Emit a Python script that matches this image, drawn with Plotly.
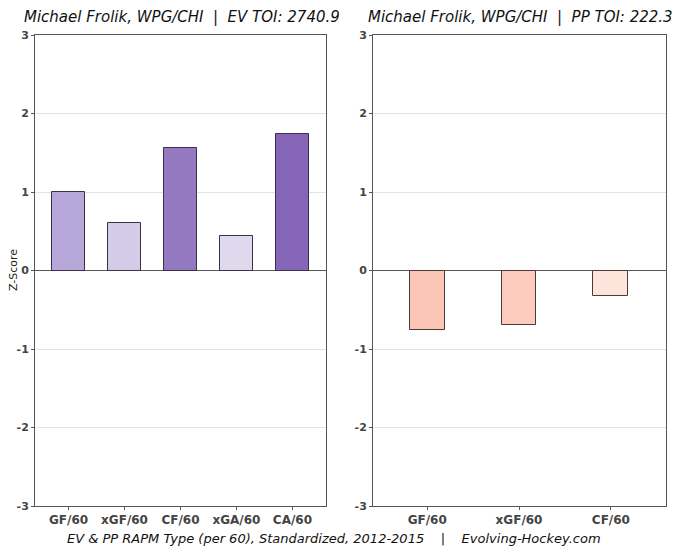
import plotly.graph_objects as go

ev_cats = ["GF/60", "xGF/60", "CF/60", "xGA/60", "CA/60"]
ev_vals = [1.00, 0.61, 1.56, 0.44, 1.74]
ev_colors = ["#b8a7d9", "#d3cbe8", "#9479c1", "#e0d9ee", "#8566b8"]

pp_cats = ["GF/60", "xGF/60", "CF/60"]
pp_vals = [-0.76, -0.69, -0.33]
pp_colors = ["#fcc6b6", "#fdcbbd", "#fee5dc"]

y_ticks = [-3, -2, -1, 0, 1, 2, 3]

W, H = 680, 560


def px(x):
    return x / W


def py(y):
    return 1 - y / H


nb = "\u00a0"
title_ev = f"Michael Frolik, WPG/CHI{nb}{nb}|{nb}{nb}EV TOI: 2740.9"
title_pp = f"Michael Frolik, WPG/CHI{nb}{nb}|{nb}{nb}PP TOI: 222.3"
caption = f"EV & PP RAPM Type (per 60), Standardized, 2012-2015{nb*4}|{nb*4}Evolving-Hockey.com"

FONT = "DejaVu Sans"
fig = go.Figure()
fig.add_trace(go.Bar(x=list(range(len(ev_cats))), y=ev_vals, width=0.6,
                     marker=dict(color=ev_colors, line=dict(color="#3a3048", width=1)),
                     xaxis="x", yaxis="y", showlegend=False))
fig.add_trace(go.Bar(x=list(range(len(pp_cats))), y=pp_vals, width=0.38,
                     marker=dict(color=pp_colors, line=dict(color="#4a3a38", width=1)),
                     xaxis="x2", yaxis="y2", showlegend=False))

ydom = [py(506), py(35)]
common_y = dict(range=[-3, 3], tickvals=y_ticks, ticktext=[str(v) for v in y_ticks],
                showgrid=True, gridcolor="#e3e3e3", gridwidth=1,
                zeroline=True, zerolinecolor="#555555", zerolinewidth=1,
                showline=True, linecolor="#555555", linewidth=1, mirror=True,
                ticks="outside", ticklen=3, tickcolor="#555555",
                tickfont=dict(family=FONT, size=11, color="#444444", weight="bold"),
                domain=ydom, automargin=False)
common_x = dict(showgrid=False, zeroline=False, showline=True, linecolor="#555555",
                linewidth=1, mirror=True, ticks="outside", ticklen=3, tickcolor="#555555",
                tickfont=dict(family=FONT, size=12, color="#444444", weight="bold"),
                automargin=False)

fig.update_layout(
    width=W, height=H, margin=dict(l=0, r=0, t=0, b=0, pad=0),
    plot_bgcolor="white", paper_bgcolor="white",
    xaxis=dict(domain=[px(35), px(326)], range=[-0.6, 4.6],
               tickvals=list(range(len(ev_cats))), ticktext=ev_cats, anchor="y", **common_x),
    yaxis=dict(anchor="x", **common_y),
    xaxis2=dict(domain=[px(373), px(666)], range=[-0.59, 2.6],
                tickvals=list(range(len(pp_cats))), ticktext=pp_cats, anchor="y2", **common_x),
    yaxis2=dict(anchor="x2", **common_y),
    bargap=0,
    annotations=[
        dict(text=title_ev, x=px(182), y=py(17), xref="paper", yref="paper",
             showarrow=False, xanchor="center", yanchor="middle", borderpad=0,
             font=dict(family=FONT, size=15, color="#111111", style="italic")),
        dict(text=title_pp, x=px(520), y=py(17), xref="paper", yref="paper",
             showarrow=False, xanchor="center", yanchor="middle", borderpad=0,
             font=dict(family=FONT, size=15, color="#111111", style="italic")),
        dict(text="Z-Score", x=px(13), y=py(270), xref="paper", yref="paper",
             showarrow=False, xanchor="center", yanchor="middle", textangle=-90,
             borderpad=0,
             font=dict(family=FONT, size=11, color="#222222")),
        dict(text=caption, x=px(334), y=py(538), xref="paper", yref="paper",
             showarrow=False, xanchor="center", yanchor="middle",
             font=dict(family=FONT, size=13, color="#111111", style="italic")),
    ],
)

fig.write_html("out.html",
               config={"displayModeBar": False},
               post_script="document.body.style.margin='0px';document.body.style.overflow='hidden';")
